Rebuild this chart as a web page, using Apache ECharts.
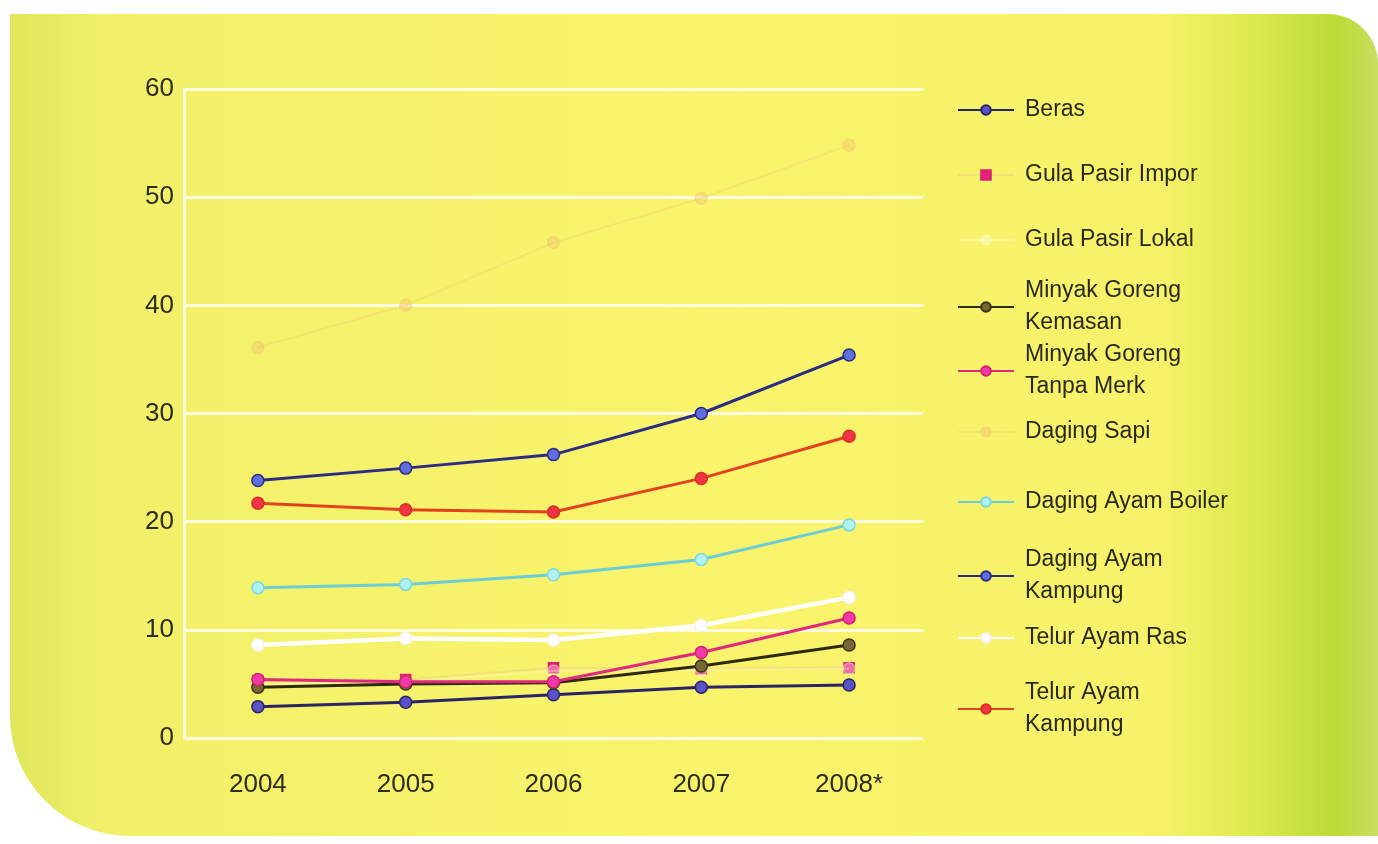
<!DOCTYPE html>
<html>
<head>
<meta charset="utf-8">
<script src="https://cdn.jsdelivr.net/npm/echarts@6/dist/echarts.min.js"></script>
<style>
html,body{margin:0;padding:0;background:#ffffff;}
#c{width:1378px;height:844px;}
</style>
</head>
<body>
<div id="c"></div>
<script>
const years = ['2004', '2005', '2006', '2007', '2008*'];
const beras = [2.9, 3.3, 4.0, 4.7, 4.9];
const gulaPasirImpor = [5.3, 5.4, 6.5, 6.4, 6.5];
const gulaPasirLokal = [5.0, 5.2, 6.2, 6.3, 6.4];
const minyakKemasan = [4.7, 5.0, 5.1, 6.65, 8.6];
const minyakTanpaMerk = [5.4, 5.2, 5.2, 7.9, 11.1];
const dagingSapi = [36.1, 40.0, 45.8, 49.9, 54.8];
const ayamBoiler = [13.9, 14.2, 15.1, 16.5, 19.7];
const ayamKampung = [23.8, 24.95, 26.2, 30.0, 35.4];
const telurRas = [8.6, 9.2, 9.05, 10.4, 13.0];
const telurKampung = [21.7, 21.1, 20.9, 24.0, 27.9];

const seriesNames = ['Beras', 'Gula Pasir Impor', 'Gula Pasir Lokal', 'Minyak Goreng Kemasan',
  'Minyak Goreng Tanpa Merk', 'Daging Sapi', 'Daging Ayam Boiler', 'Daging Ayam Kampung',
  'Telur Ayam Ras', 'Telur Ayam Kampung'];
const legendLabels = ['Beras', 'Gula Pasir Impor', 'Gula Pasir Lokal', 'Minyak Goreng\nKemasan',
  'Minyak Goreng\nTanpa Merk', 'Daging Sapi', 'Daging Ayam Boiler', 'Daging Ayam\nKampung',
  'Telur Ayam Ras', 'Telur Ayam\nKampung'];
const seriesData = [beras, gulaPasirImpor, gulaPasirLokal, minyakKemasan, minyakTanpaMerk,
  dagingSapi, ayamBoiler, ayamKampung, telurRas, telurKampung];

const styles = [
  {line: '#2b2466', fill: '#5a52c8', border: '#2b2466', symbol: 'circle', w: 3},
  {line: 'rgba(235,190,150,0.35)', fill: '#e8207e', border: '#d8206e', symbol: 'rect', w: 2},
  {line: 'rgba(255,255,235,0.3)', fill: 'rgba(255,255,235,0.35)', border: 'rgba(255,255,235,0.35)', symbol: 'circle', w: 2},
  {line: '#2e2a12', fill: '#7a6834', border: '#3a3418', symbol: 'circle', w: 3},
  {line: '#e0287e', fill: '#f03aa8', border: '#d8206e', symbol: 'circle', w: 3},
  {line: 'rgba(238,200,120,0.3)', fill: 'rgba(240,190,110,0.35)', border: 'rgba(240,190,110,0.35)', symbol: 'circle', w: 2},
  {line: '#6ccdd6', fill: '#aef2f2', border: '#7fd6de', symbol: 'circle', w: 3},
  {line: '#2c2c84', fill: '#5f6ee0', border: '#2c2c84', symbol: 'circle', w: 3},
  {line: '#ffffff', fill: '#ffffff', border: '#f4f0ff', symbol: 'circle', w: 4.5},
  {line: '#e2421e', fill: '#ee3446', border: '#d83020', symbol: 'circle', w: 3}
];

const legendCenters = [105, 170, 235, 302, 366, 427, 497, 571, 633, 704];
const LH = 32;

const chart = echarts.init(document.getElementById('c'), null, {renderer: 'canvas'});

const legends = seriesNames.map((n, i) => {
  const lines = legendLabels[i].split('\n').length;
  return {
    data: [n],
    left: 952,
    top: legendCenters[i] - (lines * LH) / 2,
    orient: 'vertical',
    itemWidth: 56,
    itemHeight: 12,
    selectedMode: false,
    formatter: () => legendLabels[i],
    textStyle: {
      fontFamily: 'Liberation Sans',
      fontSize: 23,
      color: '#2a281a',
      lineHeight: LH,
      padding: [0, 0, 0, 6]
    }
  };
});

const series = seriesNames.map((n, i) => ({
  name: n,
  type: 'line',
  data: seriesData[i],
  symbol: styles[i].symbol,
  symbolSize: styles[i].symbol === 'rect' ? 10 : 12,
  showSymbol: true,
  lineStyle: {color: styles[i].line, width: styles[i].w},
  itemStyle: {color: styles[i].fill, borderColor: styles[i].border, borderWidth: 1.5},
  emphasis: {disabled: true},
  z: 3 + i
}));

chart.setOption({
  backgroundColor: '#ffffff',
  animation: false,
  graphic: [{
    type: 'rect',
    z: -10,
    silent: true,
    shape: {x: 10, y: 14, width: 1368, height: 822, r: [0, 50, 0, 120]},
    style: {
      fill: new echarts.graphic.LinearGradient(0, 0, 1, 0, [
        {offset: 0, color: '#dfe65a'},
        {offset: 0.07, color: '#f2f06a'},
        {offset: 0.5, color: '#f9f46c'},
        {offset: 0.84, color: '#f6f26a'},
        {offset: 0.91, color: '#dcea4c'},
        {offset: 0.97, color: '#b9dc36'},
        {offset: 1, color: '#c9de62'}
      ])
    }
  }],
  legend: legends,
  grid: {left: 184, right: 455, top: 89, bottom: 106, containLabel: false},
  xAxis: {
    type: 'category',
    data: years,
    boundaryGap: true,
    axisLine: {show: false},
    axisTick: {show: false},
    axisLabel: {
      fontFamily: 'Liberation Sans',
      fontSize: 26,
      color: '#2e2c1e',
      margin: 34
    },
    splitLine: {show: false}
  },
  yAxis: {
    type: 'value',
    min: 0,
    max: 60,
    interval: 10,
    axisLine: {show: true, lineStyle: {color: '#fdfbe0', width: 3}},
    axisTick: {show: false},
    axisLabel: {
      fontFamily: 'Liberation Sans',
      fontSize: 26,
      color: '#2e2c1e',
      margin: 10
    },
    splitLine: {show: true, lineStyle: {color: '#fdfbe0', width: 3}}
  },
  series: series
});
</script>
</body>
</html>
